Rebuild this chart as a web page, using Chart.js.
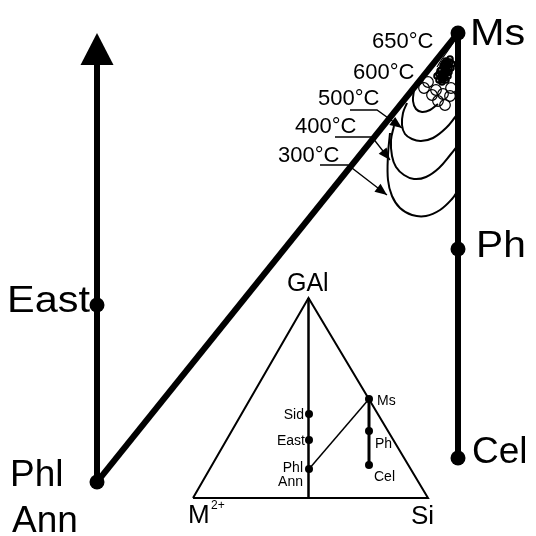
<!DOCTYPE html>
<html lang="en">
<head>
<meta charset="UTF-8">
<title>Mica end-members and isotherms</title>
<script src="https://cdn.jsdelivr.net/npm/chart.js"></script>
<style>
    html, body {
        margin: 0;
        padding: 0;
        background: #ffffff;
    }
    #wrap {
        width: 536px;
        height: 536px;
    }
</style>
</head>
<body>

<div id="wrap"><canvas id="micaChart" width="536" height="536"></canvas></div>

<script>
// schematic coordinates: x to the right, y downwards, 0..536 on both

// main end-members (dots)
const memberX = [458, 458, 458, 97, 97];
const memberY = [33, 249, 458, 305, 482];

// big labels
const bigLabels = ['Ms', 'Ph', 'Cel', 'East', 'Phl', 'Ann'];
const bigLabelX = [470, 476, 472, 7, 10, 12];
const bigLabelY = [45, 257, 463, 312, 486, 532];

// tie lines of the main diagram
const axisX = [97, 97];          // Phl-Ann -> East -> arrow
const axisY = [482, 33];
const diagX = [97, 458];         // Phl-Ann -> Ms
const diagY = [482, 33];
const rightX = [458, 458];       // Ms -> Ph -> Cel
const rightY = [33, 458];

// isotherms
const iso300X = [390, 388, 388, 392, 400, 412, 426, 440, 452, 458];
const iso300Y = [133, 155, 180, 196, 208, 215, 216, 210, 199, 190];
const iso400X = [394, 391, 392, 396, 404, 414, 426, 439, 451, 458];
const iso400Y = [126, 140, 156, 167, 175, 179, 177, 168, 154, 145];
const iso500X = [407, 403, 402, 405, 412, 421, 433, 446, 456];
const iso500Y = [103, 113, 125, 134, 139, 141, 138, 128, 116];
const isoInnerX = [414, 413, 416, 422, 430, 438];
const isoInnerY = [90, 101, 109, 112, 110, 104];
const iso650X = [456, 449, 442, 437];
const iso650Y = [38, 49, 59, 67];

// 600 °C run: small loops
const loops600X = [424, 428, 432, 438, 445, 443, 450, 451, 436];
const loops600Y = [88, 82, 95, 101, 105, 94, 96, 88, 90];
// 650 °C run: dense tangle
const tangleX = [450, 448, 447, 445, 444, 442, 441, 439, 452, 449, 447, 445, 443, 446, 451, 448, 440, 444, 446, 442, 449, 437,
                 450, 447, 444, 441, 446, 443, 439, 448, 445, 442];
const tangleY = [59, 62, 65, 68, 71, 74, 77, 80, 64, 69, 73, 78, 66, 61, 68, 76, 71, 64, 80, 82, 72, 76,
                 62, 67, 74, 70, 71, 78, 74, 65, 63, 80];

// temperature labels and their leaders
const isoNames = ['650°C', '600°C', '500°C', '400°C', '300°C'];
const isoNameX = [372, 353, 318, 295, 278];
const isoNameY = [48, 79, 105, 133, 162];
const lead500X = [350, 377, 402];
const lead500Y = [110, 110, 128];
const lead400X = [335, 372, 390];
const lead400Y = [137, 137, 160];
const lead300X = [320, 348, 387];
const lead300Y = [165, 165, 195];

// inset triangle GAl - M2+ - Si
const triX = [193, 308.5, 428, 193];
const triY = [498, 298, 498, 498];
const gAlX = [308.5, 308.5];
const gAlY = [298, 498];
const insetX = [309, 309, 309, 369, 369, 369];
const insetY = [414, 440, 469, 399, 431, 465];
const micaJoinX = [309, 369];
const micaJoinY = [469, 399];
const msCelX = [369, 369];
const msCelY = [399, 465];
const insetLabels = ['Sid', 'East', 'Phl', 'Ann', 'Ms', 'Ph', 'Cel'];
const insetLabelX = [304, 305, 303, 303, 377, 375, 374];
const insetLabelY = [419, 445, 472, 486, 405, 448, 481];
const cornerLabels = ['GAl', 'M', '2+', 'Si'];
const cornerX = [287, 188, 211, 411];
const cornerY = [291, 523, 509, 524];

const FONT = '"Liberation Sans", Arial, Helvetica, sans-serif';

function pts(xs, ys) {
    return xs.map((v, i) => ({x: v, y: ys[i]}));
}

// pull the last point of a path back so a wide shaft hides under its head
function shortened(xs, ys, d) {
    const n = xs.length;
    const dx = xs[n - 1] - xs[n - 2], dy = ys[n - 1] - ys[n - 2];
    const L = Math.hypot(dx, dy);
    const nx = xs.slice(), ny = ys.slice();
    nx[n - 1] = xs[n - 1] - dx / L * d;
    ny[n - 1] = ys[n - 1] - dy / L * d;
    return pts(nx, ny);
}

function line(data, width, extra) {
    return Object.assign({
        data: data,
        showLine: true,
        borderColor: '#000',
        borderWidth: width,
        pointRadius: 0,
        tension: 0,
        fill: false,
        clip: false
    }, extra || {});
}

function dots(data, r, extra) {
    return Object.assign({
        data: data,
        showLine: false,
        pointRadius: r,
        pointBackgroundColor: '#000',
        pointBorderWidth: 0,
        clip: false
    }, extra || {});
}

const arrows = [
    {xs: axisX, ys: axisY, len: 32, half: 16.5},
    {xs: lead500X, ys: lead500Y, len: 12, half: 5},
    {xs: lead400X, ys: lead400Y, len: 12, half: 5},
    {xs: lead300X, ys: lead300Y, len: 12, half: 5}
];

const decor = {
    id: 'decor',
    afterDatasetsDraw(chart) {
        const ctx = chart.ctx;
        const sx = chart.scales.x, sy = chart.scales.y;
        ctx.save();
        ctx.fillStyle = '#000';

        arrows.forEach(a => {
            const n = a.xs.length;
            const tx = sx.getPixelForValue(a.xs[n - 1]), ty = sy.getPixelForValue(a.ys[n - 1]);
            const fx = sx.getPixelForValue(a.xs[n - 2]), fy = sy.getPixelForValue(a.ys[n - 2]);
            const L = Math.hypot(tx - fx, ty - fy);
            const ux = (tx - fx) / L, uy = (ty - fy) / L;
            const bx = tx - ux * a.len, by = ty - uy * a.len;
            ctx.beginPath();
            ctx.moveTo(tx, ty);
            ctx.lineTo(bx - uy * a.half, by + ux * a.half);
            ctx.lineTo(bx + uy * a.half, by - ux * a.half);
            ctx.closePath();
            ctx.fill();
        });

        ctx.textBaseline = 'alphabetic';
        function text(str, x, y, size, align, stretch) {
            ctx.save();
            ctx.font = size + 'px ' + FONT;
            ctx.textAlign = align || 'left';
            ctx.translate(sx.getPixelForValue(x), sy.getPixelForValue(y));
            ctx.scale(stretch || 1, 1);
            ctx.fillText(str, 0, 0);
            ctx.restore();
        }

        // the lettering of the original is a little wider for some labels
        const bigStretch = [1.12, 1.1, 1.0, 1.12, 1.0, 1.0];
        bigLabels.forEach((s, i) => text(s, bigLabelX[i], bigLabelY[i], 37, 'left', bigStretch[i]));
        isoNames.forEach((s, i) => text(s, isoNameX[i], isoNameY[i], 22));
        insetLabels.forEach((s, i) => text(s, insetLabelX[i], insetLabelY[i], 14, i < 4 ? 'right' : 'left'));
        const cornerSize = [25, 26, 12, 26];
        cornerLabels.forEach((s, i) => text(s, cornerX[i], cornerY[i], cornerSize[i]));

        ctx.restore();
    }
};

const datasets = [
    dots(pts(memberX, memberY), 7.5, {order: 0}),
    dots(pts(insetX, insetY), 4, {order: 0}),
    line(shortened(axisX, axisY, 26), 6, {order: 5}),
    line(pts(diagX, diagY), 6, {order: 5}),
    line(pts(rightX, rightY), 6, {order: 5}),
    line(pts(iso300X, iso300Y), 2, {tension: 0.4, order: 6}),
    line(pts(iso400X, iso400Y), 2, {tension: 0.4, order: 6}),
    line(pts(iso500X, iso500Y), 2, {tension: 0.4, order: 6}),
    line(pts(isoInnerX, isoInnerY), 2, {tension: 0.4, order: 6}),
    line(pts(iso650X, iso650Y), 1.2, {tension: 0.4, order: 6}),
    dots(pts(loops600X, loops600Y), 5.3, {
        pointBackgroundColor: 'rgba(0,0,0,0)', pointBorderColor: '#000', pointBorderWidth: 1.2, order: 6
    }),
    dots(pts(tangleX, tangleY), 2.8, {
        pointBackgroundColor: 'rgba(0,0,0,0)', pointBorderColor: '#000', pointBorderWidth: 2, order: 6
    }),
    line(pts(lead500X, lead500Y), 1.3, {order: 6}),
    line(pts(lead400X, lead400Y), 1.3, {order: 6}),
    line(pts(lead300X, lead300Y), 1.3, {order: 6}),
    line(pts(triX, triY), 2, {order: 6}),
    line(pts(gAlX, gAlY), 2.5, {order: 6}),
    line(pts(micaJoinX, micaJoinY), 1.5, {order: 6}),
    line(pts(msCelX, msCelY), 3, {order: 6})
];

new Chart(document.getElementById('micaChart'), {
    type: 'scatter',
    data: {datasets: datasets},
    options: {
        responsive: false,
        animation: false,
        layout: {padding: 0, autoPadding: false},
        plugins: {
            legend: {display: false},
            tooltip: {enabled: false}
        },
        scales: {
            x: {type: 'linear', min: 0, max: 536, display: false},
            y: {type: 'linear', min: 0, max: 536, reverse: true, display: false}
        }
    },
    plugins: [decor]
});
</script>

</body>
</html>
